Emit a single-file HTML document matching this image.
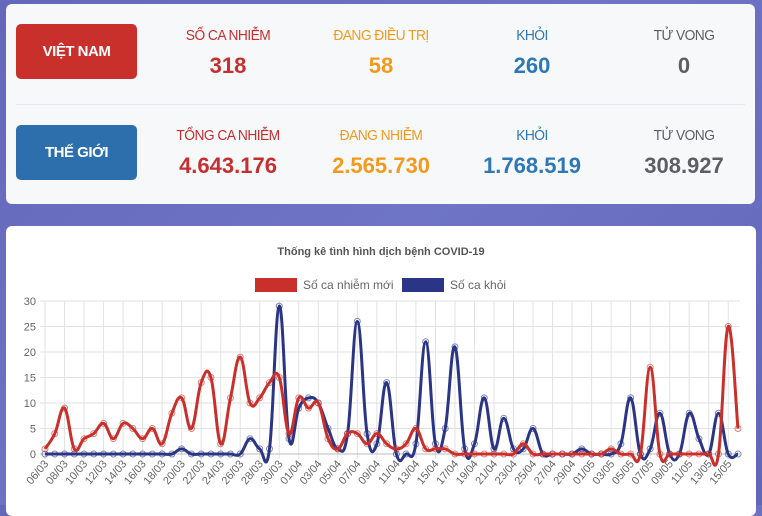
<!DOCTYPE html>
<html><head><meta charset="utf-8"><style>
*{margin:0;padding:0;box-sizing:border-box}
body{width:762px;height:505px;overflow:hidden;background:linear-gradient(135deg,#6468bb,#6f74c6 50%,#6266b8);font-family:"Liberation Sans",sans-serif;position:relative}
.card{position:absolute;left:6px;top:4px;width:749px;height:200px;background:#f7f8fa;border-radius:6px}
.btn{position:absolute;left:10px;width:121px;height:55px;border-radius:5px;color:#fff;font-weight:bold;font-size:15px;display:flex;align-items:center;justify-content:center;letter-spacing:-0.5px}
.sep{position:absolute;left:10px;right:10px;top:100px;height:1px;background:#e8e9ec}
.col{position:absolute;width:180px;margin-left:-90px;text-align:center}
.lab{font-size:15px;letter-spacing:-0.6px;transform:scaleX(0.92)}
.val{font-size:22px;font-weight:bold;margin-top:9px;letter-spacing:0}
.red{color:#c62f2f}.org{color:#f29a1e}.blu{color:#2f78b6}.gry{color:#5d5f63}
.chart{position:absolute;left:6px;top:226px;width:750px;height:290px;background:#fff;border-radius:6px}
</style></head><body>
<div class="card">
<div class="btn" style="top:20px;background:#c9302c">VIỆT NAM</div>
<div class="btn" style="top:121px;background:#2d6ead">THẾ GIỚI</div>
<div class="sep"></div>
<div class="col" style="left:222px;top:23px"><div class="lab red">SỐ CA NHIỄM</div><div class="val red">318</div></div>
<div class="col" style="left:375px;top:23px"><div class="lab org">ĐANG ĐIỀU TRỊ</div><div class="val org">58</div></div>
<div class="col" style="left:526px;top:23px"><div class="lab blu">KHỎI</div><div class="val blu">260</div></div>
<div class="col" style="left:678px;top:23px"><div class="lab gry">TỬ VONG</div><div class="val gry">0</div></div>
<div class="col" style="left:222px;top:123px"><div class="lab red">TỔNG CA NHIỄM</div><div class="val red">4.643.176</div></div>
<div class="col" style="left:375px;top:123px"><div class="lab org">ĐANG NHIỄM</div><div class="val org">2.565.730</div></div>
<div class="col" style="left:526px;top:123px"><div class="lab blu">KHỎI</div><div class="val blu">1.768.519</div></div>
<div class="col" style="left:678px;top:123px"><div class="lab gry">TỬ VONG</div><div class="val gry">308.927</div></div>
</div>
<div class="chart"></div>
<svg id="s" width="762" height="505" style="position:absolute;left:0;top:0" font-family="Liberation Sans, sans-serif">
<text x="381" y="255" text-anchor="middle" font-size="11" font-weight="bold" fill="#555">Thống kê tình hình dịch bệnh COVID-19</text>
<rect x="255" y="278" width="42" height="14" fill="#c9302c"/>
<text x="303" y="289" font-size="12" fill="#666">Số ca nhiễm mới</text>
<rect x="402" y="278" width="42" height="14" fill="#2b3585"/>
<text x="450" y="289" font-size="12" fill="#666">Số ca khỏi</text>
<g id="g"></g>
</svg>
<script>
var red=[1,4,9,1,3,4,6,3,6,5,3,5,2,8,11,5,14,15,2,11,19,10,11,14,15,4,11,9,10,3,1,4,4,2,4,2,1,2,5,1,1,1,0,0,0,0,0,0,0,2,0,0,0,0,0,0,0,0,1,0,0,0,17,0,0,0,0,0,0,0,25,5];
var blue=[0,0,0,0,0,0,0,0,0,0,0,0,0,0,1,0,0,0,0,0,0,3,1,1,29,3,9,11,10,5,1,4,26,4,2,14,0,0,2,22,2,5,21,1,2,11,1,7,1,1,5,0,0,0,0,1,0,0,0,2,11,0,1,8,0,0,8,3,0,8,0,0];
var x0=45,x1=738,yz=454,py=5.1,n=72,st=(x1-x0)/(n-1);
function X(i){return x0+i*st}function Y(v){return yz-v*py}
var h='';
for(var v=0;v<=30;v+=5){h+='<line x1="40" x2="740" y1="'+Y(v)+'" y2="'+Y(v)+'" stroke="#e2e2e2"/>';h+='<text x="36" y="'+(Y(v)+4)+'" text-anchor="end" font-size="11" fill="#666">'+v+'</text>';}
for(var i=0;i<n;i+=2){h+='<line x1="'+X(i)+'" x2="'+X(i)+'" y1="'+Y(30)+'" y2="'+(yz+5)+'" stroke="#e2e2e2"/>';}
h+='<line x1="40" x2="740" y1="'+yz+'" y2="'+yz+'" stroke="#bbb"/>';
for(var i=0;i<n;i+=2){var dd=new Date(2020,2,6+i);var s=('0'+dd.getDate()).slice(-2)+'/'+('0'+(dd.getMonth()+1)).slice(-2);
h+='<text transform="translate('+(X(i)+4)+','+(yz+10)+') rotate(-50)" text-anchor="end" font-size="11" fill="#666">'+s+'</text>';}
function path(a,c){var p='M'+X(0)+','+Y(a[0]),t=0.4;
for(var i=0;i<n-1;i++){var p0=Math.max(i-1,0),p3=Math.min(i+2,n-1);
var c1x=X(i)+(X(i+1)-X(p0))*t/2,c1y=Y(a[i])+(Y(a[i+1])-Y(a[p0]))*t/2;
var c2x=X(i+1)-(X(p3)-X(i))*t/2,c2y=Y(a[i+1])-(Y(a[p3])-Y(a[i]))*t/2;
p+=' C'+c1x.toFixed(1)+','+c1y.toFixed(1)+' '+c2x.toFixed(1)+','+c2y.toFixed(1)+' '+X(i+1).toFixed(1)+','+Y(a[i+1]).toFixed(1);}
var r='<path d="'+p+'" fill="none" stroke="'+c+'" stroke-width="3"/>';
for(var i=0;i<n;i++)r+='<circle cx="'+X(i)+'" cy="'+Y(a[i])+'" r="3" fill="none" stroke="'+c+'" stroke-opacity="0.6" stroke-width="1"/>';
return r;}
h+=path(blue,'#2b3585')+path(red,'#c9302c');
document.getElementById('g').innerHTML=h;
</script>
</body></html>
